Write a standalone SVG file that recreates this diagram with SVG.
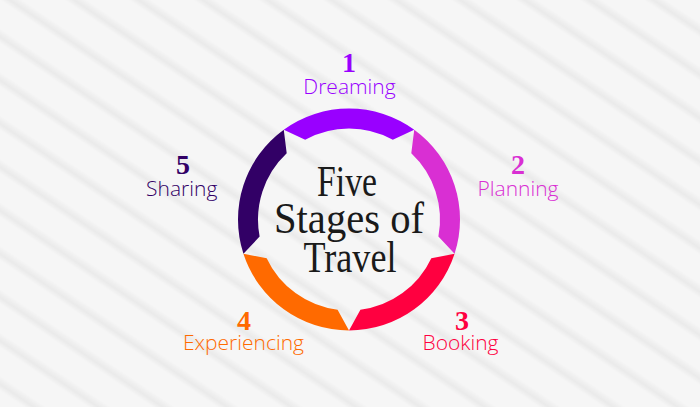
<svg xmlns="http://www.w3.org/2000/svg" width="700" height="407" viewBox="0 0 700 407">
  <defs>
    <linearGradient id="stripeGrad" x1="0" y1="0" x2="0" y2="1">
      <stop offset="0" stop-color="#f6f6f6"/>
      <stop offset="0.65" stop-color="#f6f6f6"/>
      <stop offset="0.85" stop-color="#eaeaea"/>
      <stop offset="1" stop-color="#f6f6f6"/>
    </linearGradient>
    <pattern id="sand" patternUnits="userSpaceOnUse" width="900" height="36" patternTransform="rotate(34)">
      <rect x="0" y="0" width="900" height="36" fill="url(#stripeGrad)"/>
    </pattern>
    <style>
      .num { font-family: "Liberation Serif", "Times New Roman", serif; font-weight: 700; font-size: 28px; text-anchor: middle; }
      .lbl { font-family: "Open Sans", "Liberation Sans", Arial, sans-serif; font-weight: 300; font-size: 21px; text-anchor: middle; }
      .title { font-family: "Liberation Serif", "Times New Roman", serif; font-weight: 400; font-size: 44px; text-anchor: middle; fill: #1a1a1a; }
      .c1 { fill: #9900ff; }
      .c2 { fill: #d92fd3; }
      .c3 { fill: #ff0040; }
      .c4 { fill: #ff6a00; }
      .c5 { fill: #320066; }
    </style>
  </defs>

  <rect x="0" y="0" width="700" height="407" fill="#f5f5f5"/>
  <rect x="0" y="0" width="700" height="407" fill="url(#sand)"/>

  <g id="cycle">
    <path id="seg-dreaming" class="c1" d="M283.76,129.70 A111,111 0 0 1 414.24,129.70 L392.84,139.76 A91,91 0 0 0 305.16,139.76 Z"/>
    <path id="seg-planning" class="c2" d="M414.24,129.70 A111,111 0 0 1 454.57,253.80 L438.39,236.55 A91,91 0 0 0 411.29,153.16 Z"/>
    <path id="seg-booking" class="c3" d="M454.57,253.80 A111,111 0 0 1 349,330.5 L360.41,309.78 A91,91 0 0 0 431.34,258.25 Z"/>
    <path id="seg-experiencing" class="c4" d="M349,330.5 A111,111 0 0 1 243.43,253.80 L266.66,258.25 A91,91 0 0 0 337.59,309.78 Z"/>
    <path id="seg-sharing" class="c5" d="M243.43,253.80 A111,111 0 0 1 283.76,129.70 L286.71,153.16 A91,91 0 0 0 259.61,236.55 Z"/>
  </g>

  <g id="title">
    <text class="title" x="347" y="196" textLength="60" lengthAdjust="spacingAndGlyphs">Five</text>
    <text class="title" x="349" y="233" textLength="150" lengthAdjust="spacingAndGlyphs">Stages of</text>
    <text class="title" x="350" y="272" textLength="93" lengthAdjust="spacingAndGlyphs">Travel</text>
  </g>

  <g id="stage1">
    <text class="num c1" x="349" y="72">1</text>
    <text class="lbl c1" x="349.5" y="93.5">Dreaming</text>
  </g>
  <g id="stage2">
    <text class="num c2" x="518" y="174">2</text>
    <text class="lbl c2" x="518" y="195.5">Planning</text>
  </g>
  <g id="stage3">
    <text class="num c3" x="462" y="330">3</text>
    <text class="lbl c3" x="460.5" y="349.5">Booking</text>
  </g>
  <g id="stage4">
    <text class="num c4" x="244" y="330">4</text>
    <text class="lbl c4" x="243.5" y="349.5">Experiencing</text>
  </g>
  <g id="stage5">
    <text class="num c5" x="183" y="174">5</text>
    <text class="lbl c5" x="181.7" y="195.5">Sharing</text>
  </g>
</svg>
